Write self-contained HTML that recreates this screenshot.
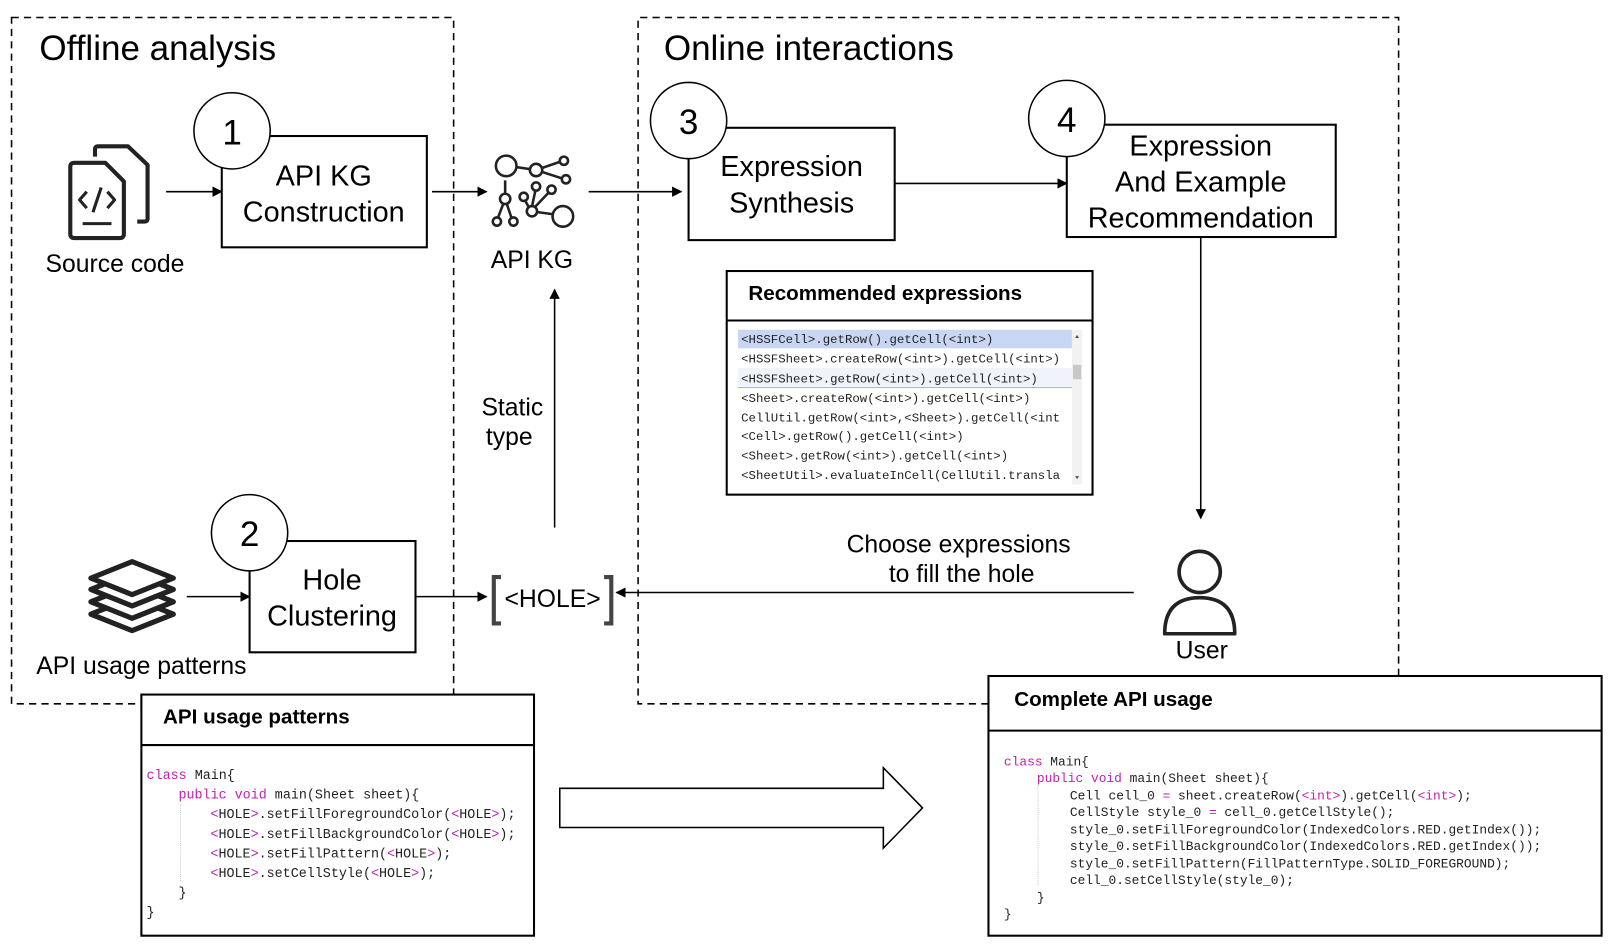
<!DOCTYPE html>
<html><head><meta charset="utf-8"><style>
html,body{margin:0;padding:0;background:#fff;width:1608px;height:946px;overflow:hidden}
svg{display:block}
text{font-family:"Liberation Sans",sans-serif;fill:#000}
.m{font-family:"Liberation Mono",monospace;font-size:12px;fill:#222}
.c{font-family:"Liberation Mono",monospace;font-size:13px;fill:#222}
.k{fill:#c020b0}
</style></head><body>
<svg width="1608" height="946" viewBox="0 0 1560 918" xmlns="http://www.w3.org/2000/svg">
<defs>
<marker id="a" markerWidth="10" markerHeight="10" refX="9" refY="5" orient="auto" markerUnits="userSpaceOnUse"><path d="M0,0 L10,5 L0,10 z" fill="#000"/></marker>
</defs>
<!-- dashed regions -->
<rect x="11" y="17" width="429" height="666" fill="none" stroke="#000" stroke-width="1.5" stroke-dasharray="7,5"/>
<path d="M959,683 L619,683 L619,17 L1357,17 L1357,656" fill="none" stroke="#000" stroke-width="1.5" stroke-dasharray="7,5"/>
<text x="38" y="58" font-size="34">Offline analysis</text>
<text x="644" y="58" font-size="34">Online interactions</text>

<!-- source code icon -->
<g fill="none" stroke="#222" stroke-width="4" stroke-linejoin="round">
<path d="M92,152 L92,145 Q92,142 95,142 L124,142 L143,160 L143,212 Q143,215 140,215 L133,215"/>
<path d="M68,162 Q68,158 72,158 L102,158 L120,176 L120,227 Q120,231 116,231 L72,231 Q68,231 68,227 Z"/>
<path d="M84,186 L77,194 L84,202 M104,186 L111,194 L104,202 M98,182 L90,206" stroke-width="3"/>
<path d="M80,217 L108,217" stroke-width="3"/>
</g>
<text x="44" y="264" font-size="24">Source code</text>
<line x1="161" y1="186" x2="215" y2="186" stroke="#000" stroke-width="1.5" marker-end="url(#a)"/>

<rect x="215" y="132" width="199" height="108" fill="#fff" stroke="#000" stroke-width="2"/>
<circle cx="225" cy="127" r="37" fill="#fff" stroke="#000" stroke-width="1.5"/>
<text x="225" y="140" font-size="34" text-anchor="middle">1</text>
<text x="314" y="180" font-size="28" text-anchor="middle">API KG</text>
<text x="314" y="215" font-size="28" text-anchor="middle">Construction</text>
<line x1="419" y1="186" x2="472" y2="186" stroke="#000" stroke-width="1.5" marker-end="url(#a)"/>

<!-- KG icon -->
<g fill="#fff" stroke="#222" stroke-width="2.5">
<path d="M493,161 L520,165 L546,156 M520,165 L548,174 M490,175 L490,193 L482,214 M490,193 L497,214 M508,192 L515,205 L520,182 M515,205 L545,209 M515,205 L534,185" fill="none"/>
<circle cx="491" cy="161" r="10"/><circle cx="520" cy="165" r="6"/><circle cx="547" cy="156" r="4"/><circle cx="549" cy="174" r="4"/>
<circle cx="490" cy="193" r="5"/><circle cx="482" cy="215" r="4"/><circle cx="498" cy="215" r="4"/>
<circle cx="508" cy="191" r="4"/><circle cx="520" cy="181" r="4"/><circle cx="535" cy="184" r="4"/>
<circle cx="516" cy="205" r="5"/><circle cx="546" cy="210" r="10"/>
</g>
<text x="516" y="260" font-size="24" text-anchor="middle">API KG</text>
<line x1="571" y1="186" x2="661" y2="186" stroke="#000" stroke-width="1.5" marker-end="url(#a)"/>

<rect x="668" y="124" width="200" height="109" fill="#fff" stroke="#000" stroke-width="2"/>
<circle cx="668" cy="117" r="37" fill="#fff" stroke="#000" stroke-width="1.5"/>
<text x="668" y="130" font-size="34" text-anchor="middle">3</text>
<text x="768" y="171" font-size="28" text-anchor="middle">Expression</text>
<text x="768" y="206" font-size="28" text-anchor="middle">Synthesis</text>
<line x1="868" y1="178" x2="1035" y2="178" stroke="#000" stroke-width="1.5" marker-end="url(#a)"/>

<rect x="1035" y="121" width="261" height="109" fill="#fff" stroke="#000" stroke-width="2"/>
<circle cx="1035" cy="115" r="37" fill="#fff" stroke="#000" stroke-width="1.5"/>
<text x="1035" y="128" font-size="34" text-anchor="middle">4</text>
<text x="1165" y="151" font-size="28" text-anchor="middle">Expression</text>
<text x="1165" y="186" font-size="28" text-anchor="middle">And Example</text>
<text x="1165" y="221" font-size="28" text-anchor="middle">Recommendation</text>
<line x1="1165" y1="230" x2="1165" y2="503" stroke="#000" stroke-width="1.5" marker-end="url(#a)"/>

<!-- recommended -->
<rect x="705" y="263" width="355" height="217" fill="#fff" stroke="#000" stroke-width="2"/>
<line x1="705" y1="311" x2="1060" y2="311" stroke="#000" stroke-width="2"/>
<text x="726" y="291" font-size="20" font-weight="bold">Recommended expressions</text>
<rect x="716" y="320" width="324" height="18" fill="#c9d6f3"/>
<rect x="716" y="357" width="324" height="18" fill="#f1f3fb"/>
<line x1="716" y1="376" x2="1040" y2="376" stroke="#9fb5e6" stroke-width="1"/>
<rect x="1040" y="320" width="10" height="150" fill="#f2f2f2"/>
<rect x="1041" y="354" width="8" height="14" fill="#c8c8c8"/>
<path d="M1043,328 L1045,325 L1047,328 Z M1043,462 L1045,465 L1047,462 Z" fill="#555"/>
<text class="m" x="719" y="333">&lt;HSSFCell&gt;.getRow().getCell(&lt;int&gt;)</text>
<text class="m" x="719" y="352">&lt;HSSFSheet&gt;.createRow(&lt;int&gt;).getCell(&lt;int&gt;)</text>
<text class="m" x="719" y="371">&lt;HSSFSheet&gt;.getRow(&lt;int&gt;).getCell(&lt;int&gt;)</text>
<text class="m" x="719" y="390">&lt;Sheet&gt;.createRow(&lt;int&gt;).getCell(&lt;int&gt;)</text>
<text class="m" x="719" y="409">CellUtil.getRow(&lt;int&gt;,&lt;Sheet&gt;).getCell(&lt;int</text>
<text class="m" x="719" y="427">&lt;Cell&gt;.getRow().getCell(&lt;int&gt;)</text>
<text class="m" x="719" y="446">&lt;Sheet&gt;.getRow(&lt;int&gt;).getCell(&lt;int&gt;)</text>
<text class="m" x="719" y="465">&lt;SheetUtil&gt;.evaluateInCell(CellUtil.transla</text>

<!-- stack icon -->
<g fill="#fff" stroke="#222" stroke-width="5" stroke-linejoin="round">
<path d="M88,596 L128,612 L168,596 L128,580 Z"/>
<path d="M88,584 L128,600 L168,584 L128,568 Z"/>
<path d="M88,572 L128,588 L168,572 L128,556 Z"/>
<path d="M88,561 L128,577 L168,561 L128,545 Z"/>
</g>
<text x="35" y="654" font-size="24">API usage patterns</text>
<line x1="181" y1="579" x2="242" y2="579" stroke="#000" stroke-width="1.5" marker-end="url(#a)"/>

<rect x="242" y="525" width="161" height="108" fill="#fff" stroke="#000" stroke-width="2"/>
<circle cx="242" cy="517" r="37" fill="#fff" stroke="#000" stroke-width="1.5"/>
<text x="242" y="530" font-size="34" text-anchor="middle">2</text>
<text x="322" y="572" font-size="28" text-anchor="middle">Hole</text>
<text x="322" y="607" font-size="28" text-anchor="middle">Clustering</text>
<line x1="403" y1="579" x2="472" y2="579" stroke="#000" stroke-width="1.5" marker-end="url(#a)"/>

<!-- HOLE -->
<path d="M486,560 L479,560 L479,605 L486,605 M586,560 L593,560 L593,605 L586,605" fill="none" stroke="#444" stroke-width="4"/>
<text x="536" y="589" font-size="24" text-anchor="middle">&lt;HOLE&gt;</text>
<line x1="538" y1="512" x2="538" y2="281" stroke="#000" stroke-width="1.5" marker-end="url(#a)"/>
<text x="497" y="403" font-size="24" text-anchor="middle">Static</text>
<text x="494" y="432" font-size="24" text-anchor="middle">type</text>

<line x1="1100" y1="575" x2="598" y2="575" stroke="#000" stroke-width="1.5" marker-end="url(#a)"/>
<text x="930" y="536" font-size="24" text-anchor="middle">Choose expressions</text>
<text x="933" y="565" font-size="24" text-anchor="middle">to fill the hole</text>

<!-- user -->
<circle cx="1164" cy="555" r="20" fill="#fff" stroke="#222" stroke-width="3.5"/>
<path d="M1130,615 Q1130,580 1164,580 Q1198,580 1198,615 Z" fill="#fff" stroke="#222" stroke-width="3.5" stroke-linejoin="round"/>
<text x="1166" y="639" font-size="24" text-anchor="middle">User</text>

<!-- API usage patterns box -->
<rect x="137" y="674" width="381" height="234" fill="#fff" stroke="#000" stroke-width="2"/>
<line x1="137" y1="723" x2="518" y2="723" stroke="#000" stroke-width="2"/>
<text x="158" y="702" font-size="20" font-weight="bold">API usage patterns</text>
<line x1="175" y1="780" x2="175" y2="856" stroke="#ccc" stroke-dasharray="1,1"/>
<text class="c" x="142" y="756"><tspan class="k">class</tspan> Main{</text>
<text class="c" x="173" y="775"><tspan class="k">public void</tspan> main(Sheet sheet){</text>
<text class="c" x="204" y="794"><tspan class="k">&lt;</tspan>HOLE<tspan class="k">&gt;</tspan>.setFillForegroundColor(<tspan class="k">&lt;</tspan>HOLE<tspan class="k">&gt;</tspan>);</text>
<text class="c" x="204" y="813"><tspan class="k">&lt;</tspan>HOLE<tspan class="k">&gt;</tspan>.setFillBackgroundColor(<tspan class="k">&lt;</tspan>HOLE<tspan class="k">&gt;</tspan>);</text>
<text class="c" x="204" y="832"><tspan class="k">&lt;</tspan>HOLE<tspan class="k">&gt;</tspan>.setFillPattern(<tspan class="k">&lt;</tspan>HOLE<tspan class="k">&gt;</tspan>);</text>
<text class="c" x="204" y="851"><tspan class="k">&lt;</tspan>HOLE<tspan class="k">&gt;</tspan>.setCellStyle(<tspan class="k">&lt;</tspan>HOLE<tspan class="k">&gt;</tspan>);</text>
<text class="c" x="173" y="870">}</text>
<text class="c" x="142" y="889">}</text>

<!-- big arrow -->
<path d="M543,765 L857,765 L857,745 L895,784 L857,823 L857,803 L543,803 Z" fill="#fff" stroke="#000" stroke-width="1.5"/>

<!-- complete -->
<rect x="959" y="656" width="595" height="252" fill="#fff" stroke="#000" stroke-width="2"/>
<line x1="959" y1="709" x2="1554" y2="709" stroke="#000" stroke-width="2"/>
<text x="984" y="685" font-size="20" font-weight="bold">Complete API usage</text>
<line x1="1007" y1="762" x2="1007" y2="860" stroke="#ccc" stroke-dasharray="1,1"/>
<g style="font-size:12.5px">
<text class="c" x="974" y="743" style="font-size:12.5px"><tspan class="k">class</tspan> Main{</text>
<text class="c" x="1006" y="759" style="font-size:12.5px"><tspan class="k">public void</tspan> main(Sheet sheet){</text>
<text class="c" x="1038" y="776" style="font-size:12.5px">Cell cell_0 <tspan class="k">=</tspan> sheet.createRow(<tspan class="k">&lt;int&gt;</tspan>).getCell(<tspan class="k">&lt;int&gt;</tspan>);</text>
<text class="c" x="1038" y="792" style="font-size:12.5px">CellStyle style_0 <tspan class="k">=</tspan> cell_0.getCellStyle();</text>
<text class="c" x="1038" y="809" style="font-size:12.5px">style_0.setFillForegroundColor(IndexedColors.RED.getIndex());</text>
<text class="c" x="1038" y="825" style="font-size:12.5px">style_0.setFillBackgroundColor(IndexedColors.RED.getIndex());</text>
<text class="c" x="1038" y="842" style="font-size:12.5px">style_0.setFillPattern(FillPatternType.SOLID_FOREGROUND);</text>
<text class="c" x="1038" y="858" style="font-size:12.5px">cell_0.setCellStyle(style_0);</text>
<text class="c" x="1006" y="875" style="font-size:12.5px">}</text>
<text class="c" x="974" y="891" style="font-size:12.5px">}</text>
</g>
</svg>
</body></html>
